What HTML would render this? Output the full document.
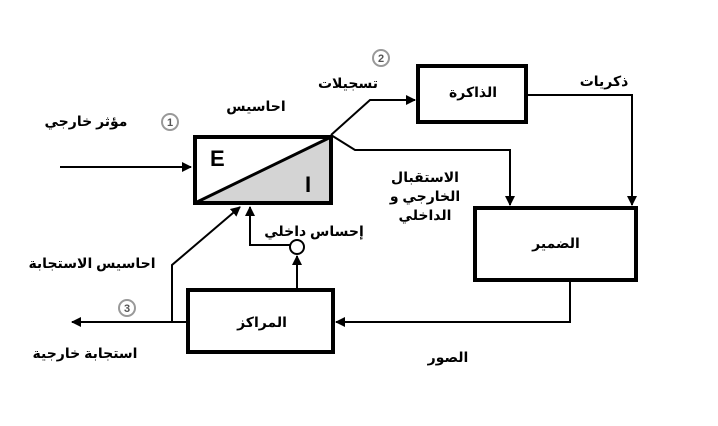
<!DOCTYPE html>
<html><head><meta charset="utf-8"><style>
body{margin:0;background:#fff;}
svg text{font-family:"Liberation Sans","DejaVu Sans",sans-serif;font-weight:bold;fill:#000;}
</style></head><body>
<svg width="718" height="421" viewBox="0 0 718 421" xmlns="http://www.w3.org/2000/svg">
<defs><marker id="a" markerWidth="10" markerHeight="10" refX="9" refY="5" orient="auto" markerUnits="userSpaceOnUse"><path d="M0,0 L10,5 L0,10 Z" fill="#000"/></marker></defs>
<g stroke="#000" stroke-width="2" fill="none">
<line x1="60" y1="167" x2="191" y2="167" marker-end="url(#a)"/>
<polyline points="331,135 370,100 415,100" marker-end="url(#a)"/>
<polyline points="331,135 355,150 510,150 510,205" marker-end="url(#a)"/>
<polyline points="527,95 632,95 632,205" marker-end="url(#a)"/>
<polyline points="570,280 570,322 336,322" marker-end="url(#a)"/>
<line x1="187" y1="322" x2="72" y2="322" marker-end="url(#a)"/>
<polyline points="172,322 172,265 240,207" marker-end="url(#a)"/>
<line x1="297" y1="289" x2="297" y2="256" marker-end="url(#a)"/>
<polyline points="290,245 250,245 250,207" marker-end="url(#a)"/>
</g>
<circle cx="297" cy="247" r="7" fill="#fff" stroke="#000" stroke-width="2"/>
<rect x="195" y="137" width="136" height="66" fill="#fff" stroke="#000" stroke-width="4"/>
<polygon points="197,201 329,139 329,201" fill="#d4d4d4"/>
<line x1="195" y1="203" x2="331" y2="137" stroke="#000" stroke-width="3"/>
<rect x="195" y="137" width="136" height="66" fill="none" stroke="#000" stroke-width="4"/>
<text x="210" y="166" font-size="22">E</text>
<text x="305" y="192" font-size="22">I</text>
<rect x="418" y="66" width="108" height="56" fill="#fff" stroke="#000" stroke-width="4"/>
<rect x="475" y="208" width="161" height="72" fill="#fff" stroke="#000" stroke-width="4"/>
<rect x="188" y="290" width="145" height="62" fill="#fff" stroke="#000" stroke-width="4"/>
<g font-size="14" text-anchor="middle">
<text x="473" y="97">الذاكرة</text>
<text x="556" y="248">الضمير</text>
<text x="262" y="327">المراكز</text>
<text x="256" y="111">احاسيس</text>
<text x="348" y="88">تسجيلات</text>
<text x="604" y="86">ذكريات</text>
<text x="86" y="126">مؤثر خارجي</text>
<text x="425" y="182">الاستقبال</text>
<text x="425" y="201">الخارجي و</text>
<text x="425" y="220">الداخلي</text>
<text x="314" y="236">إحساس داخلي</text>
<text x="92" y="268">احاسيس الاستجابة</text>
<text x="85" y="358">استجابة خارجية</text>
<text x="448" y="362">الصور</text>
</g>
<g fill="#fff" stroke="#999" stroke-width="2">
<circle cx="170" cy="122" r="8"/><circle cx="381" cy="58" r="8"/><circle cx="127" cy="308" r="8"/>
</g>
<g font-size="11" text-anchor="middle">
<text x="170" y="126" style="fill:#555">1</text><text x="381" y="62" style="fill:#555">2</text><text x="127" y="312" style="fill:#555">3</text>
</g>
</svg>
</body></html>
